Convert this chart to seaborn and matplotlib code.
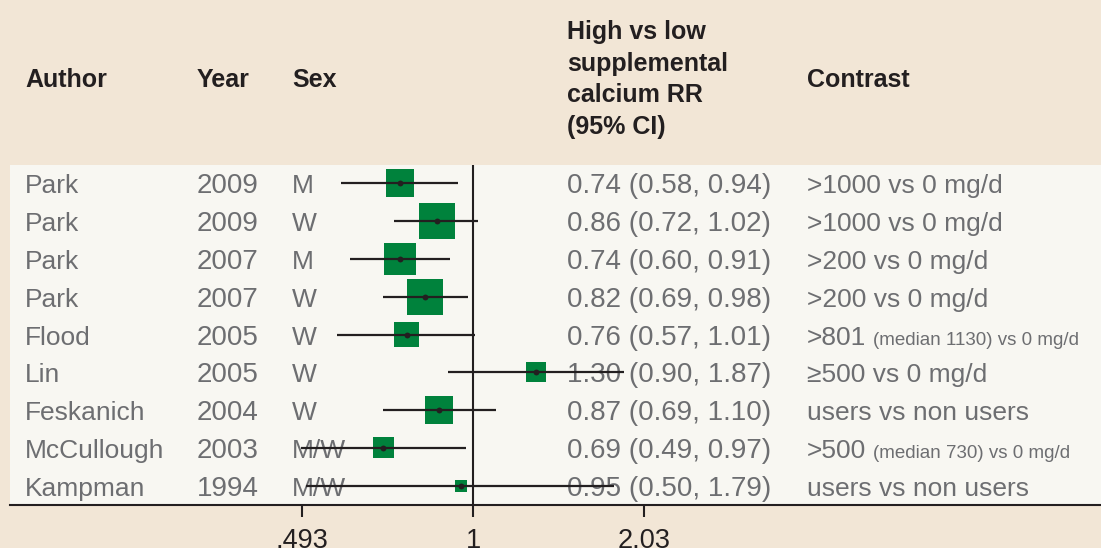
import numpy as np
import pandas as pd
import matplotlib
matplotlib.use("Agg")
import matplotlib.pyplot as plt
import matplotlib.transforms as mtransforms
from matplotlib.ticker import NullLocator
import seaborn as sns

# ---------------- data ----------------
authors = ["Park", "Park", "Park", "Park", "Flood", "Lin", "Feskanich", "McCullough", "Kampman"]
years = [2009, 2009, 2007, 2007, 2005, 2005, 2004, 2003, 1994]
sexes = ["M", "W", "M", "W", "W", "W", "W", "M/W", "M/W"]
rr = [0.74, 0.86, 0.74, 0.82, 0.76, 1.30, 0.87, 0.69, 0.95]
ci_low = [0.58, 0.72, 0.60, 0.69, 0.57, 0.90, 0.69, 0.49, 0.50]
ci_high = [0.94, 1.02, 0.91, 0.98, 1.01, 1.87, 1.10, 0.97, 1.79]
weights = [11.5, 19.1, 15.1, 19.1, 9.2, 5.9, 11.5, 6.5, 2.1]  # study weight (%)
contrast_main = [">1000 vs 0 mg/d", ">1000 vs 0 mg/d", ">200 vs 0 mg/d", ">200 vs 0 mg/d",
                 ">801", "\u2265500 vs 0 mg/d", "users vs non users", ">500", "users vs non users"]
contrast_note = ["", "", "", "", "(median 1130) vs 0 mg/d", "", "", "(median 730) vs 0 mg/d", ""]
tick_values = [0.493, 1, 2.03]
tick_labels = [".493", "1", "2.03"]
header_cols = ["Author", "Year", "Sex", "Contrast"]
header_rr = ["High vs low", "supplemental", "calcium RR", "(95% CI)"]

# ---------------- style ----------------
sns.set_style("white")
plt.rcParams["font.family"] = ["Liberation Sans", "DejaVu Sans"]

BEIGE = "#F2E6D6"
PANEL = "#F8F7F2"
GREEN = "#00823C"
DARK = "#231F20"
GREY = "#6D6E71"

W, H = 1101, 548
fig = plt.figure(figsize=(W / 100, H / 100), dpi=100, facecolor=BEIGE)
top_px, bot_px = 164.5, 504.5
ax = fig.add_axes([10 / W, 1 - bot_px / H, (W - 10) / W, (bot_px - top_px) / H])
ax.set_facecolor(PANEL)
ax.set_xscale("log")

n = len(authors)
df = pd.DataFrame({"rr": rr, "lo": ci_low, "hi": ci_high, "weight": weights,
                   "row": np.arange(n)})

ax.axvline(1, color=DARK, lw=1.5, zorder=2)
k = 35.2
sns.scatterplot(data=df, x="rr", y="row", size="weight",
                sizes=(k * min(weights), k * max(weights)),
                marker="s", color=GREEN, linewidth=0, legend=False, ax=ax, zorder=3)
ax.hlines(df["row"], df["lo"], df["hi"], color=DARK, lw=1.6, zorder=4)
sns.scatterplot(data=df, x="rr", y="row", color=DARK, s=18, linewidth=0,
                legend=False, ax=ax, zorder=5)

ax.set_xlim(0.1472, 13.44)
ax.set_ylim(n - 0.5, -0.5)
ax.set_xlabel("")
ax.set_ylabel("")
ax.set_yticks([])
ax.set_xticks(tick_values)
ax.set_xticklabels(tick_labels)
ax.xaxis.set_minor_locator(NullLocator())
ax.tick_params(axis="x", which="major", bottom=True, direction="out", length=8.6,
               width=1.5, color=DARK, labelsize=19.5, labelcolor=DARK, pad=8)
for s in ["top", "right", "left"]:
    ax.spines[s].set_visible(False)
ax.spines["bottom"].set_color(DARK)
ax.spines["bottom"].set_linewidth(1.5)

# ---------------- table text ----------------
trans = mtransforms.blended_transform_factory(fig.transFigure, ax.transData)
col_x = {"author": 25, "year": 196.5, "sex": 292, "rr": 567, "contrast": 807}
for i in range(n):
    y = i + 0.265
    kw = dict(transform=trans, fontsize=19, color=GREY, va="baseline", ha="left", zorder=1)
    kwn = dict(kw, fontsize=20)
    ax.text(col_x["author"] / W, y, authors[i], **kw)
    ax.text(col_x["year"] / W, y, str(years[i]), **kwn)
    ax.text(col_x["sex"] / W, y, sexes[i], **kw)
    ax.text(col_x["rr"] / W, y, f"{rr[i]:.2f} ({ci_low[i]:.2f}, {ci_high[i]:.2f})", **kwn)
    t = ax.text(col_x["contrast"] / W, y, contrast_main[i], **kw)
    if contrast_note[i]:
        ax.annotate(contrast_note[i], xy=(1, y), xycoords=(t, "data"),
                    xytext=(5, 0), textcoords="offset points",
                    fontsize=13.5, color=GREY, va="baseline", ha="left", zorder=1)

# ---------------- header ----------------
hkw = dict(fontsize=18, fontweight="bold", color=DARK, va="baseline", ha="left")
for name, xp in zip(header_cols, [25, 196.5, 292, 807]):
    fig.text(xp / W, 1 - 87 / H, name, **hkw)
for j, line in enumerate(header_rr):
    fig.text(567 / W, 1 - (39.3 + 31.5 * j) / H, line, **hkw)

fig.savefig("out.png", dpi=100, facecolor=BEIGE)
